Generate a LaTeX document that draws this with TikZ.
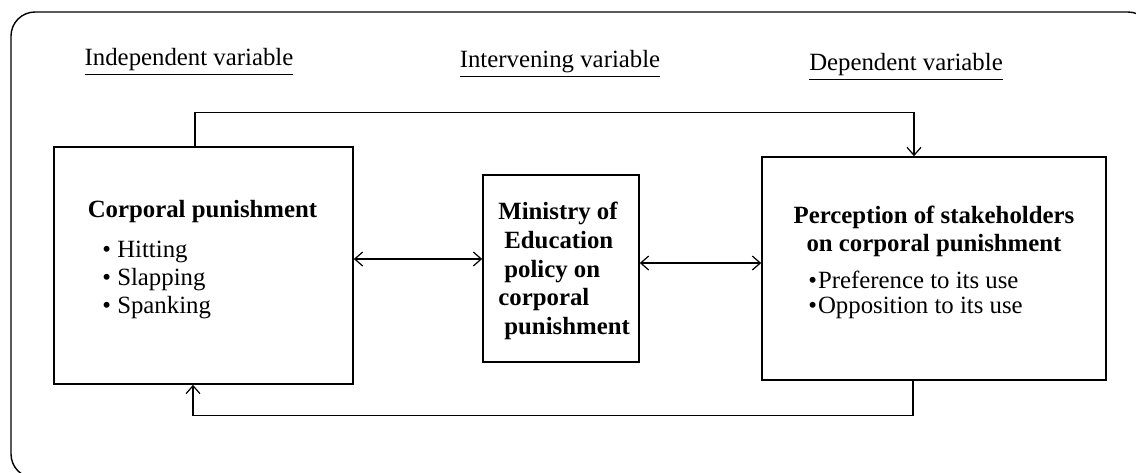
\documentclass[tikz,border=0pt]{standalone}
\usepackage{fontspec}
\setmainfont{Liberation Serif}
\usetikzlibrary{arrows.meta}
\tikzset{
  box/.style={draw,line width=0.8pt,inner sep=0pt},
  txt/.style={inner sep=0pt,font=\fontsize{12.4}{14}\selectfont},
  head/.style={txt},
  link/.style={line width=0.6pt,-{Straight Barb[length=4pt,width=7pt]}},
  both/.style={line width=0.6pt,{Straight Barb[length=4pt,width=7pt]}-{Straight Barb[length=4pt,width=7pt]}}
}
\begin{document}
\begin{tikzpicture}[x=0.5pt,y=-0.5pt]
\clip (0,0) rectangle (1136,472);
\draw[line width=0.7pt,rounded corners=12pt] (11,12) rectangle (1152,478);
% headings
\node[head] (hind) at (189,62) {\underline{Independent variable}};
\node[head] (hint) at (560,64) {\underline{Intervening variable}};
\node[head] (hdep) at (906,67) {\underline{Dependent variable}};
% boxes
\node[box,minimum width=149.5pt,minimum height=118.5pt] (cp) at (203.5,265.5) {};
\node[box,minimum width=78pt,minimum height=93.5pt] (mo) at (561,268.5) {};
\node[box,minimum width=172pt,minimum height=111.5pt] (ps) at (934,268.5) {};
% texts
\node[txt,font=\fontsize{12.4}{14}\selectfont\bfseries] (cptitle) at (202.5,212) {Corporal punishment};
\node[txt,anchor=west,align=left] (cplist) at (102,280)
  {\textbullet\ Hitting\\ \textbullet\ Slapping\\ \textbullet\ Spanking};
\node[txt,anchor=west,align=left,font=\fontsize{12.4}{14.4}\selectfont\bfseries] (motext) at (498,271)
  {Ministry of\\ \hspace{3pt}Education\\ \hspace{3pt}policy on\\ corporal\\ \hspace{3pt}punishment};
\node[txt,align=center,font=\fontsize{12.4}{14}\selectfont\bfseries] (pstitle) at (934,231)
  {Perception of stakeholders\\ on corporal punishment};
\node[txt,anchor=west,align=left,font=\fontsize{12.4}{12.4}\selectfont] (pslist) at (808,295)
  {\textbullet\kern0.5pt Preference to its use\\ \textbullet\kern0.5pt Opposition to its use};
% connectors
\draw[link] ([xshift=-4.25pt]cp.north) -- ++(0,-34) -| ([xshift=-10pt]ps.north);
\draw[link] ([xshift=-10.5pt]ps.south) -- ++(0,35) -| ([xshift=-5.25pt]cp.south);
\draw[both] ([yshift=3.25pt]cp.east) -- ([yshift=4.75pt]mo.west);
\draw[both] ([yshift=2.75pt]mo.east) -- ([yshift=2.75pt]ps.west);
\end{tikzpicture}
\end{document}
